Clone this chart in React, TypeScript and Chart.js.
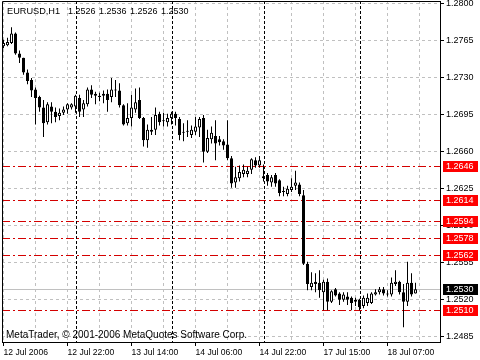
import React, { useEffect, useRef } from 'react';
import { Chart, registerables } from 'chart.js';

Chart.register(...registerables);

const SYMBOL = 'EURUSD,H1';
const COPYRIGHT = 'MetaTrader, \u00A9 2001-2006 MetaQuotes Software Corp.';

// Hourly bars, 12 Jul 2006 06:00 .. 18 Jul 2006 14:00
const OPEN = [
  1.2760, 1.2761, 1.2763, 1.2772, 1.2753, 1.2749, 1.2735, 1.2728, 1.2719, 1.2712,
  1.2702, 1.2688, 1.2703, 1.2698, 1.2694, 1.2697, 1.2700, 1.2702, 1.2703, 1.2711,
  1.2700, 1.2705, 1.2719, 1.2715, 1.2713, 1.2715, 1.2715, 1.2712, 1.2719, 1.2718,
  1.2704, 1.2687, 1.2692, 1.2700, 1.2709, 1.2692, 1.2671, 1.2679, 1.2681, 1.2696,
  1.2690, 1.2688, 1.2692, 1.2696, 1.2691, 1.2678, 1.2679, 1.2676, 1.2679, 1.2683,
  1.2692, 1.2660, 1.2672, 1.2675, 1.2672, 1.2670, 1.2667, 1.2654, 1.2631, 1.2635,
  1.2639, 1.2639, 1.2643, 1.2652, 1.2647, 1.2637, 1.2638, 1.2631, 1.2638, 1.2633,
  1.2623, 1.2620, 1.2624, 1.2628, 1.2629, 1.2619, 1.2554, 1.2532, 1.2537, 1.2536,
  1.2527, 1.2537, 1.2518, 1.2530, 1.2526, 1.2520, 1.2523, 1.2522, 1.2518, 1.2520,
  1.2514, 1.2517, 1.2517, 1.2525, 1.2527, 1.2530, 1.2525, 1.2525, 1.2535, 1.2537,
  1.2527, 1.2518, 1.2536, 1.2526,
];
const HIGH = [
  1.2766, 1.2768, 1.2778, 1.2773, 1.2756, 1.2749, 1.2738, 1.2730, 1.2721, 1.2713,
  1.2709, 1.2707, 1.2707, 1.2702, 1.2701, 1.2703, 1.2706, 1.2706, 1.2714, 1.2714,
  1.2709, 1.2721, 1.2723, 1.2717, 1.2716, 1.2718, 1.2719, 1.2730, 1.2728, 1.2725,
  1.2705, 1.2706, 1.2714, 1.2720, 1.2721, 1.2693, 1.2686, 1.2693, 1.2702, 1.2698,
  1.2697, 1.2696, 1.2698, 1.2698, 1.2693, 1.2687, 1.2690, 1.2685, 1.2693, 1.2693,
  1.2695, 1.2681, 1.2684, 1.2690, 1.2675, 1.2672, 1.2690, 1.2656, 1.2646, 1.2647,
  1.2648, 1.2646, 1.2654, 1.2655, 1.2656, 1.2648, 1.2640, 1.2638, 1.2640, 1.2634,
  1.2627, 1.2628, 1.2635, 1.2642, 1.2631, 1.2624, 1.2556, 1.2546, 1.2545, 1.2548,
  1.2539, 1.2540, 1.2529, 1.2531, 1.2527, 1.2527, 1.2527, 1.2523, 1.2522, 1.2521,
  1.2524, 1.2526, 1.2527, 1.2530, 1.2532, 1.2532, 1.2529, 1.2541, 1.2548, 1.2538,
  1.2535, 1.2556, 1.2545, 1.2536,
];
const LOW = [
  1.2758, 1.2760, 1.2762, 1.2752, 1.2744, 1.2733, 1.2724, 1.2712, 1.2686, 1.2698,
  1.2674, 1.2686, 1.2687, 1.2688, 1.2690, 1.2695, 1.2696, 1.2700, 1.2697, 1.2693,
  1.2693, 1.2703, 1.2711, 1.2705, 1.2708, 1.2706, 1.2698, 1.2707, 1.2712, 1.2702,
  1.2685, 1.2685, 1.2684, 1.2697, 1.2691, 1.2665, 1.2664, 1.2676, 1.2676, 1.2685,
  1.2684, 1.2684, 1.2686, 1.2685, 1.2671, 1.2670, 1.2674, 1.2673, 1.2676, 1.2674,
  1.2650, 1.2659, 1.2668, 1.2652, 1.2666, 1.2662, 1.2652, 1.2626, 1.2626, 1.2632,
  1.2636, 1.2636, 1.2639, 1.2645, 1.2645, 1.2632, 1.2628, 1.2627, 1.2627, 1.2618,
  1.2618, 1.2618, 1.2622, 1.2624, 1.2618, 1.2553, 1.2529, 1.2529, 1.2527, 1.2522,
  1.2510, 1.2510, 1.2517, 1.2523, 1.2515, 1.2518, 1.2515, 1.2510, 1.2514, 1.2510,
  1.2512, 1.2514, 1.2516, 1.2524, 1.2525, 1.2524, 1.2523, 1.2523, 1.2533, 1.2525,
  1.2494, 1.2514, 1.2523, 1.2526,
];
const CLOSE = [
  1.2763, 1.2764, 1.2772, 1.2753, 1.2749, 1.2735, 1.2727, 1.2718, 1.2711, 1.2702,
  1.2687, 1.2705, 1.2698, 1.2693, 1.2697, 1.2700, 1.2705, 1.2705, 1.2713, 1.2698,
  1.2706, 1.2719, 1.2714, 1.2713, 1.2712, 1.2713, 1.2709, 1.2719, 1.2718, 1.2704,
  1.2686, 1.2692, 1.2702, 1.2707, 1.2692, 1.2671, 1.2681, 1.2681, 1.2695, 1.2688,
  1.2689, 1.2692, 1.2696, 1.2692, 1.2676, 1.2679, 1.2680, 1.2681, 1.2684, 1.2691,
  1.2660, 1.2673, 1.2678, 1.2668, 1.2669, 1.2666, 1.2654, 1.2630, 1.2636, 1.2641,
  1.2643, 1.2642, 1.2653, 1.2647, 1.2652, 1.2635, 1.2632, 1.2636, 1.2630, 1.2621,
  1.2622, 1.2625, 1.2627, 1.2631, 1.2620, 1.2554, 1.2535, 1.2536, 1.2535, 1.2529,
  1.2537, 1.2518, 1.2528, 1.2524, 1.2520, 1.2525, 1.2520, 1.2517, 1.2520, 1.2513,
  1.2522, 1.2522, 1.2526, 1.2527, 1.2530, 1.2526, 1.2526, 1.2536, 1.2537, 1.2527,
  1.2518, 1.2536, 1.2525, 1.2530,
];

// time axis: labelled every 16 bars, grid every 8 bars
const TIME_LABELS = ['12 Jul 2006', '12 Jul 22:00', '13 Jul 14:00', '14 Jul 06:00', '14 Jul 22:00', '17 Jul 15:00', '18 Jul 07:00'];
const DAY_STARTS = [18, 42, 65, 89];
const PRICE_TICKS = [1.2485, 1.2520, 1.2555, 1.2590, 1.2625, 1.2660, 1.2695, 1.2730, 1.2765, 1.2800];
const LEVELS = [1.2646, 1.2614, 1.2594, 1.2578, 1.2562, 1.2510];
const BID = 1.2530;

const X_MIN = -0.375;
const X_MAX = 109.125;
const Y_MIN = 1.2480;
const Y_MAX = 1.28028;
const FONT = 'Liberation Sans';

const fmt = (v: number) => v.toFixed(4);

const guidesPlugin = {
  id: 'guides',
  beforeDatasetsDraw(chart: any) {
    const { ctx, chartArea } = chart;
    const xs = chart.scales.x;
    const ys = chart.scales.y;
    const { left, right, top, bottom } = chartArea;
    ctx.save();
    ctx.lineWidth = 1;
    // bid line
    const by = Math.floor(ys.getPixelForValue(BID)) + 0.5;
    ctx.strokeStyle = '#c0c0c0';
    ctx.setLineDash([]);
    ctx.beginPath();
    ctx.moveTo(left, by);
    ctx.lineTo(right, by);
    ctx.stroke();
    // period separators
    ctx.strokeStyle = '#000';
    ctx.setLineDash([3, 2]);
    DAY_STARTS.forEach((d) => {
      const px = Math.floor(xs.getPixelForValue(d)) + 1.5;
      ctx.beginPath();
      ctx.moveTo(px, top);
      ctx.lineTo(px, bottom);
      ctx.stroke();
    });
    // horizontal levels
    ctx.strokeStyle = '#d40000';
    ctx.setLineDash([8, 3, 2, 3]);
    LEVELS.forEach((lv) => {
      const py = Math.floor(ys.getPixelForValue(lv)) + 0.5;
      ctx.beginPath();
      ctx.moveTo(left, py);
      ctx.lineTo(right, py);
      ctx.stroke();
    });
    ctx.restore();
  },
  afterDraw(chart: any) {
    const { ctx, chartArea } = chart;
    const ys = chart.scales.y;
    const { left, right, top, bottom } = chartArea;
    ctx.save();
    // frame
    ctx.strokeStyle = '#000';
    ctx.lineWidth = 1;
    ctx.setLineDash([]);
    ctx.beginPath();
    ctx.moveTo(left + 0.5, bottom);
    ctx.lineTo(left + 0.5, top + 0.5);
    ctx.lineTo(right, top + 0.5);
    ctx.stroke();
    // price labels for levels and bid
    ctx.font = `9px "${FONT}"`;
    ctx.textBaseline = 'middle';
    ctx.textAlign = 'left';
    const drawTag = (v: number, bg: string) => {
      const py = Math.floor(ys.getPixelForValue(v));
      ctx.fillStyle = bg;
      ctx.fillRect(right + 3, py - 5, 35, 11);
      ctx.fillStyle = '#fff';
      ctx.fillText(fmt(v), right + 6, py + 0.5);
    };
    LEVELS.forEach((lv) => drawTag(lv, '#ff0000'));
    drawTag(BID, '#000');
    // header
    const n = OPEN.length - 1;
    ctx.fillStyle = '#000';
    ctx.textBaseline = 'alphabetic';
    ctx.font = `9.2px "${FONT}"`;
    ctx.fillText(SYMBOL, 7, 14);
    ctx.font = `9px "${FONT}"`;
    [OPEN[n], HIGH[n], LOW[n], CLOSE[n]].forEach((v, i) => {
      ctx.fillText(fmt(v), 68 + 31 * i, 14);
    });
    // footer
    ctx.font = `10px "${FONT}"`;
    ctx.fillText(COPYRIGHT, 6, 338);
    ctx.restore();
  },
};

export default function App() {
  const ref = useRef<HTMLCanvasElement | null>(null);
  useEffect(() => {
    if (!ref.current) return;
    Chart.defaults.font.family = FONT;
    const idx = OPEN.map((_, i) => i);
    const chart = new Chart(ref.current, {
      type: 'bar',
      data: {
        datasets: [
          {
            type: 'bar',
            label: 'body',
            data: idx.map((i) => ({ x: i, y: [Math.min(OPEN[i], CLOSE[i]), Math.max(OPEN[i], CLOSE[i])] })) as any,
            backgroundColor: idx.map((i) => (CLOSE[i] >= OPEN[i] ? '#ffffff' : '#000000')),
            borderColor: '#000',
            borderWidth: 1,
            borderSkipped: false,
            inflateAmount: 0,
            grouped: false,
            barThickness: 3,
            maxBarThickness: 3,
            order: 0,
          } as any,
          {
            type: 'bar',
            label: 'wick',
            data: idx.map((i) => ({ x: i, y: [LOW[i], HIGH[i]] })) as any,
            backgroundColor: '#000',
            borderWidth: 0,
            inflateAmount: 0,
            grouped: false,
            barThickness: 1,
            maxBarThickness: 1,
            order: 1,
          } as any,
        ],
      },
      options: {
        responsive: false,
        animation: false,
        devicePixelRatio: 1,
        events: [],
        layout: { padding: { left: 2, top: 1, right: 0, bottom: 0 } },
        plugins: { legend: { display: false }, tooltip: { enabled: false }, title: { display: false } },
        scales: {
          x: {
            type: 'linear',
            min: X_MIN,
            max: X_MAX,
            bounds: 'data',
            offset: false,
            afterBuildTicks: (s: any) => {
              const t = [];
              for (let v = 0; v <= X_MAX; v += 8) t.push({ value: v });
              s.ticks = t;
            },
            afterFit: (s: any) => {
              s.height = 18;
              s.paddingLeft = 0;
              s.paddingRight = 0;
            },
            ticks: {
              autoSkip: false,
              maxRotation: 0,
              minRotation: 0,
              align: 'start',
              padding: 1,
              color: '#000',
              font: { size: 8.6, family: FONT },
              callback: (v: any) => {
                const n = Number(v);
                return n % 16 === 0 && TIME_LABELS[n / 16] ? TIME_LABELS[n / 16] : '';
              },
            },
            grid: {
              offset: false,
              color: '#c0c0c0',
              lineWidth: 1,
              tickLength: 4,
              tickColor: (c: any) => (c.tick && c.tick.value % 16 === 0 && c.tick.value <= 96 ? '#000' : 'rgba(0,0,0,0)'),
            },
            border: { display: true, color: '#000', width: 1, dash: [3, 3] },
          } as any,
          y: {
            type: 'linear',
            position: 'right',
            min: Y_MIN,
            max: Y_MAX,
            bounds: 'data',
            afterBuildTicks: (s: any) => {
              s.ticks = PRICE_TICKS.map((value) => ({ value }));
            },
            afterFit: (s: any) => {
              s.width = 40;
              s.paddingTop = 0;
              s.paddingBottom = 0;
            },
            ticks: {
              padding: 2,
              color: '#000',
              font: { size: 9, family: FONT },
              callback: (v: any) => fmt(Number(v)),
            },
            grid: { color: '#c0c0c0', lineWidth: 1, tickLength: 4, tickColor: '#000' },
            border: { display: true, color: '#000', width: 1, dash: [3, 3] },
          } as any,
        },
      },
      plugins: [guidesPlugin],
    });
    return () => chart.destroy();
  }, []);
  return (
    <div style={{ position: 'fixed', left: 0, top: 0, width: 480, height: 360, background: '#fff' }}>
      <canvas ref={ref} width={480} height={360} style={{ display: 'block' }} />
    </div>
  );
}
